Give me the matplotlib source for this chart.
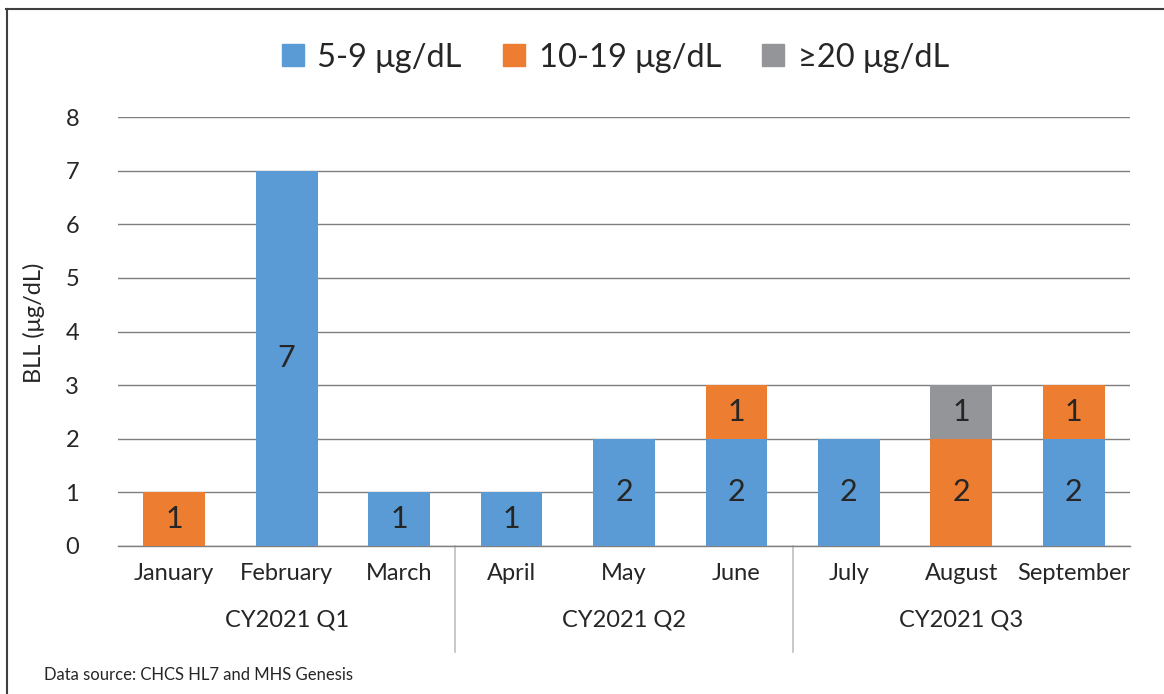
import matplotlib
matplotlib.use("Agg")
import matplotlib.pyplot as plt
from matplotlib.lines import Line2D
import numpy as np

plt.rcParams['font.family'] = ['Lato', 'DejaVu Sans']

months = ["January", "February", "March", "April", "May", "June",
          "July", "August", "September"]
quarters = ["CY2021 Q1", "CY2021 Q2", "CY2021 Q3"]
series_names = ["5-9 μg/dL", "10-19 μg/dL", "≥20 μg/dL"]
s_5_9 = [0, 7, 1, 1, 2, 2, 2, 0, 2]
s_10_19 = [1, 0, 0, 0, 0, 1, 0, 2, 1]
s_20 = [0, 0, 0, 0, 0, 0, 0, 1, 0]
colors = ["#5B9BD5", "#ED7D31", "#939598"]
text_color = "#262626"

fig = plt.figure(figsize=(11.64, 6.94), dpi=100)
ax = fig.add_axes([118/1164, (694-546)/694, (1130-118)/1164, (546-117)/694])

x = np.arange(len(months))
width = 0.55
bottom = np.zeros(len(months))
for vals, c in zip([s_5_9, s_10_19, s_20], colors):
    v = np.array(vals, dtype=float)
    ax.bar(x, v, width, bottom=bottom, color=c, zorder=3)
    for xi, vi, bi in zip(x, v, bottom):
        if vi > 0:
            ax.text(xi, bi + vi/2, f"{int(vi)}", ha='center', va='center',
                    fontsize=22, color=text_color, zorder=4)
    bottom += v

ax.set_xlim(-0.5, len(months) - 0.5)
ax.set_ylim(0, 8)
ax.set_yticks(range(0, 9))
ax.yaxis.grid(True, color="#7f7f7f", linewidth=1.0, zorder=0)
ax.set_axisbelow(True)
for s in ["top", "right", "left"]:
    ax.spines[s].set_visible(False)
ax.spines["bottom"].set_color("#7f7f7f")
ax.spines["bottom"].set_linewidth(1.0)
ax.tick_params(axis='y', length=0, pad=28, labelsize=17, labelcolor=text_color)
ax.tick_params(axis='x', length=0, pad=12, labelsize=17, labelcolor=text_color)
ax.set_xticks(x)
ax.set_xticklabels(months)
ax.set_ylabel("BLL (μg/dL)", fontsize=17, color=text_color)
ax.yaxis.set_label_coords(-0.072, 0.52)

# group labels and separators
trans = ax.get_xaxis_transform()
for gi, q in enumerate(quarters):
    ax.text(gi*3 + 1, -0.172, q, transform=trans, ha='center', va='center',
            fontsize=17, color=text_color)
for b in [2.5, 5.5]:
    ax.plot([b, b], [0, -0.247], transform=trans, color="#bfbfbf",
            linewidth=1.2, clip_on=False)

handles = [Line2D([], [], marker='s', linestyle='none', markersize=16,
                  markerfacecolor=c, markeredgecolor=c) for c in colors]
fig.legend(handles, series_names, loc='center', bbox_to_anchor=(0.525, 0.917),
           ncol=3, frameon=False, fontsize=23.5, handletextpad=0.15,
           handlelength=1.2, columnspacing=1.0, labelcolor=text_color)

fig.text(44/1164, 1 - 675/694, "Data source: CHCS HL7 and MHS Genesis",
         fontsize=12, color=text_color, ha='left', va='center')

# border (top and left)
fig.add_artist(Line2D([6/1164, 1], [1 - 8.5/694, 1 - 8.5/694],
                      transform=fig.transFigure, color="#404040", linewidth=1.5))
fig.add_artist(Line2D([6.5/1164, 6.5/1164], [0, 1 - 8.5/694],
                      transform=fig.transFigure, color="#404040", linewidth=1.5))

fig.savefig("out.png", dpi=100)
